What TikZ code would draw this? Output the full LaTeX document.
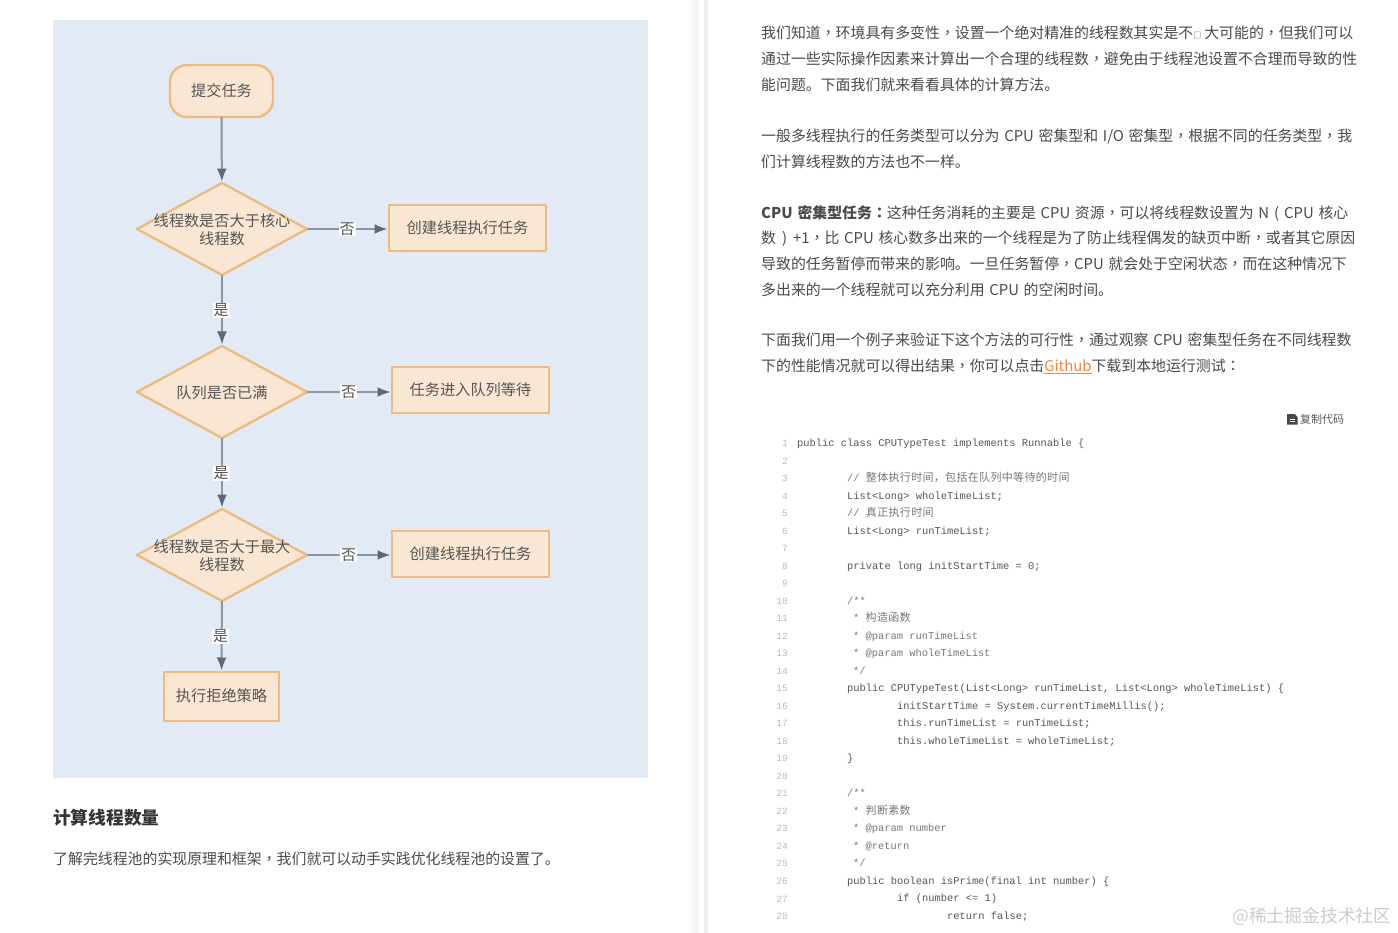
\documentclass[tikz,border=0pt]{standalone}
\usepackage{fontspec}
\usetikzlibrary{shapes.geometric,arrows.meta}
\setmainfont[WordSpace=1.4]{Noto Sans CJK SC}
\newfontfamily\tcf[WordSpace=1.4]{Noto Sans CJK TC}
\newfontfamily\codef{Liberation Mono}
\newfontfamily\cmtf[LetterSpace=3]{Noto Sans CJK SC}
\definecolor{panel}{HTML}{E2EAF6}
\definecolor{nodefill}{HTML}{FAE7D3}
\definecolor{nodeline}{HTML}{EDBB80}
\definecolor{edgeline}{HTML}{8B95A6}
\definecolor{edgetip}{HTML}{5F6878}
\definecolor{ink}{HTML}{555555}
\definecolor{bodyink}{HTML}{4A4A4A}
\definecolor{codeink}{HTML}{555555}
\definecolor{cmtink}{HTML}{777777}
\definecolor{numink}{HTML}{BBBBBB}
\definecolor{gh}{HTML}{F0883A}
\tikzset{
  flow/.style={draw=nodeline,fill=nodefill,line width=2.4pt,line join=round,text=ink,font=\fontsize{15.2}{18}\selectfont,inner sep=0pt,outer sep=0pt},
  boxn/.style={flow,rectangle,minimum width=157pt,minimum height=46pt},
  dia/.style={flow,diamond,minimum width=170pt,minimum height=92pt},
  dtext/.style={text=ink,font=\fontsize{15.2}{18.4}\selectfont,align=center,inner sep=0pt,yshift=-1pt},
  edge/.style={draw=edgeline,line width=2pt,-{Latex[length=13pt,width=10pt,color=edgetip]},shorten >=1.5pt},
  lab/.style={fill=white,text=ink,font=\fontsize{15}{15}\selectfont,inner sep=1pt,midway,xshift=-1pt},
  bodyl/.style={anchor=west,inner sep=0pt,yshift=-3pt,text=bodyink,font=\fontsize{14.9}{15}\selectfont,text height=.88em,text depth=.12em},
  codel/.style={anchor=west,inner sep=0pt,yshift=-.7pt,text=codeink,font=\codef\fontsize{10.4}{10.4}\selectfont,text height=.88em,text depth=.12em},
  cmtl/.style={codel,text=cmtink},
  numl/.style={anchor=east,inner sep=0pt,yshift=-.7pt,text=numink,font=\codef\fontsize{9.5}{9.5}\selectfont,text height=.88em,text depth=.12em},
}
\newcommand{\cmt}[1]{{\cmtf\fontsize{11}{11}\selectfont #1}}
\newcommand{\jd}{{\tcf ，}}
\newcommand{\mh}{{\tcf ：}}
\begin{document}
\begin{tikzpicture}[x=1pt,y=-1pt]
\useasboundingbox (0,0) rectangle (1398,933);
\fill[white] (0,0) rectangle (1398,933);
% page separators
\shade[left color=white,right color=black!6,draw=none] (688,0) rectangle (698,933);
\fill[black!6] (704,0) rectangle (708,933);
% panel
\fill[panel] (53,20) rectangle (648,778);
% flowchart
\node[flow,rectangle,rounded corners=17pt,minimum width=103pt,minimum height=52pt] (start) at (221.5,91) {\raisebox{-1pt}{提交任务}};
\node[dia,label={[dtext]center:线程数是否大于核心\\线程数}] (d1) at (222,229) {};
\node[boxn] (b1) at (467.5,228) {创建线程执行任务};
\node[dia,label={[dtext]center:队列是否已满}] (d2) at (222,392) {};
\node[boxn] (b2) at (470.5,390) {任务进入队列等待};
\node[dia,label={[dtext]center:线程数是否大于最大\\线程数}] (d3) at (222,555) {};
\node[boxn] (b3) at (470.5,554) {创建线程执行任务};
\node[flow,rectangle,minimum width=115pt,minimum height=49pt] (end) at (221.5,696.5) {\raisebox{2pt}{执行拒绝策略}};
\draw[edge] (start) -- (d1);
\draw[edge] (d1) -- node[lab] (l1) {是} (d2);
\draw[edge] (d2) -- node[lab] (l2) {是} (d3);
\draw[edge] (d3) -- node[lab] (l3) {是} (end);
\draw[edge] (d1.east) -- node[lab] (n1) {否} (d1.east -| b1.west);
\draw[edge] (d2.east) -- node[lab] (n2) {否} (d2.east -| b2.west);
\draw[edge] (d3.east) -- node[lab] (n3) {否} (d3.east -| b3.west);
% left text
\node[bodyl,text=black!80,font=\fontsize{17.7}{17.7}\bfseries\selectfont] (h) at (53,818) {计算线程数量};
\node[bodyl] (lp) at (53,858) {了解完线程池的实现原理和框架\jd 我们就可以动手实践优化线程池的设置了。};
% right text
\node[bodyl] (t1) at (761,32) {我们知道\jd 环境具有多变性\jd 设置一个绝对精准的线程数其实是不{\fontsize{8}{8}\selectfont □}\hspace{3pt}大可能的\jd 但我们可以};
\node[bodyl] (t2) at (761,58) {通过一些实际操作因素来计算出一个合理的线程数\jd 避免由于线程池设置不合理而导致的性};
\node[bodyl] (t3) at (761,84) {能问题。下面我们就来看看具体的计算方法。};
\node[bodyl] (t4) at (761,135) {一般多线程执行的任务类型可以分为 CPU 密集型和 I/O 密集型\jd 根据不同的任务类型\jd 我};
\node[bodyl] (t5) at (761,161) {们计算线程数的方法也不一样。};
\node[bodyl] (t6) at (761,212) {{\bfseries CPU 密集型任务\mh}这种任务消耗的主要是 CPU 资源\jd 可以将线程数设置为 N\hspace{5pt}(\hspace{5pt}CPU 核心};
\node[bodyl] (t7) at (761,237) {数\hspace{6pt})\hspace{6pt}+1\jd 比 CPU 核心数多出来的一个线程是为了防止线程偶发的缺页中断\jd 或者其它原因};
\node[bodyl] (t8) at (761,263) {导致的任务暂停而带来的影响。一旦任务暂停\jd CPU 就会处于空闲状态\jd 而在这种情况下};
\node[bodyl] (t9) at (761,289) {多出来的一个线程就可以充分利用 CPU 的空闲时间。};
\node[bodyl] (t10) at (761,339) {下面我们用一个例子来验证下这个方法的可行性\jd 通过观察 CPU 密集型任务在不同线程数};
\node[bodyl] (t11) at (761,365) {下的性能情况就可以得出结果\jd 你可以点击{\color{gh}\underline{Github}}下载到本地运行测试\mh};
% copy button
\fill[black!72] (1287,414) -- (1294.5,414) -- (1297.5,417) -- (1297.5,424.5) -- (1287,424.5) -- cycle;
\draw[white,line width=.7pt] (1289.5,419) -- (1295,419) (1289.5,421.5) -- (1295,421.5);
\node[cmtl,yshift=0pt,text=black!65,font=\fontsize{11}{11}\selectfont] (copy) at (1300,419) {复制代码};
% line numbers
\foreach \n in {1,...,28} \node[numl] (ln\n) at (788,{442+17.52*(\n-1)}) {\n};
% code
\node[codel] (c1) at (797,442) {public class CPUTypeTest implements Runnable \{};
\node[cmtl] (c3) at (847,477) {// \cmt{整体执行时间，包括在队列中等待的时间}};
\node[codel] (c4) at (847,495) {List<Long> wholeTimeList;};
\node[cmtl] (c5) at (847,512) {// \cmt{真正执行时间}};
\node[codel] (c6) at (847,530) {List<Long> runTimeList;};
\node[codel] (c8) at (847,565) {private long initStartTime = 0;};
\node[cmtl] (c10) at (847,600) {/**};
\node[cmtl] (c11) at (853,617) {* \cmt{构造函数}};
\node[cmtl] (c12) at (853,635) {* @param runTimeList};
\node[cmtl] (c13) at (853,652) {* @param wholeTimeList};
\node[cmtl] (c14) at (853,670) {*/};
\node[codel] (c15) at (847,687) {public CPUTypeTest(List<Long> runTimeList, List<Long> wholeTimeList) \{};
\node[codel] (c16) at (897,705) {initStartTime = System.currentTimeMillis();};
\node[codel] (c17) at (897,722) {this.runTimeList = runTimeList;};
\node[codel] (c18) at (897,740) {this.wholeTimeList = wholeTimeList;};
\node[codel] (c19) at (847,757) {\}};
\node[cmtl] (c21) at (847,792) {/**};
\node[cmtl] (c22) at (853,810) {* \cmt{判断素数}};
\node[cmtl] (c23) at (853,827) {* @param number};
\node[cmtl] (c24) at (853,845) {* @return};
\node[cmtl] (c25) at (853,862) {*/};
\node[codel] (c26) at (847,880) {public boolean isPrime(final int number) \{};
\node[codel] (c27) at (897,897) {if (number <= 1)};
\node[codel] (c28) at (947,915) {return false;};
% watermark
\node[bodyl,text=black!20,font=\fontsize{17.8}{17.8}\selectfont] (wm) at (1232,916) {@稀土掘金技术社区};
\end{tikzpicture}
\end{document}
